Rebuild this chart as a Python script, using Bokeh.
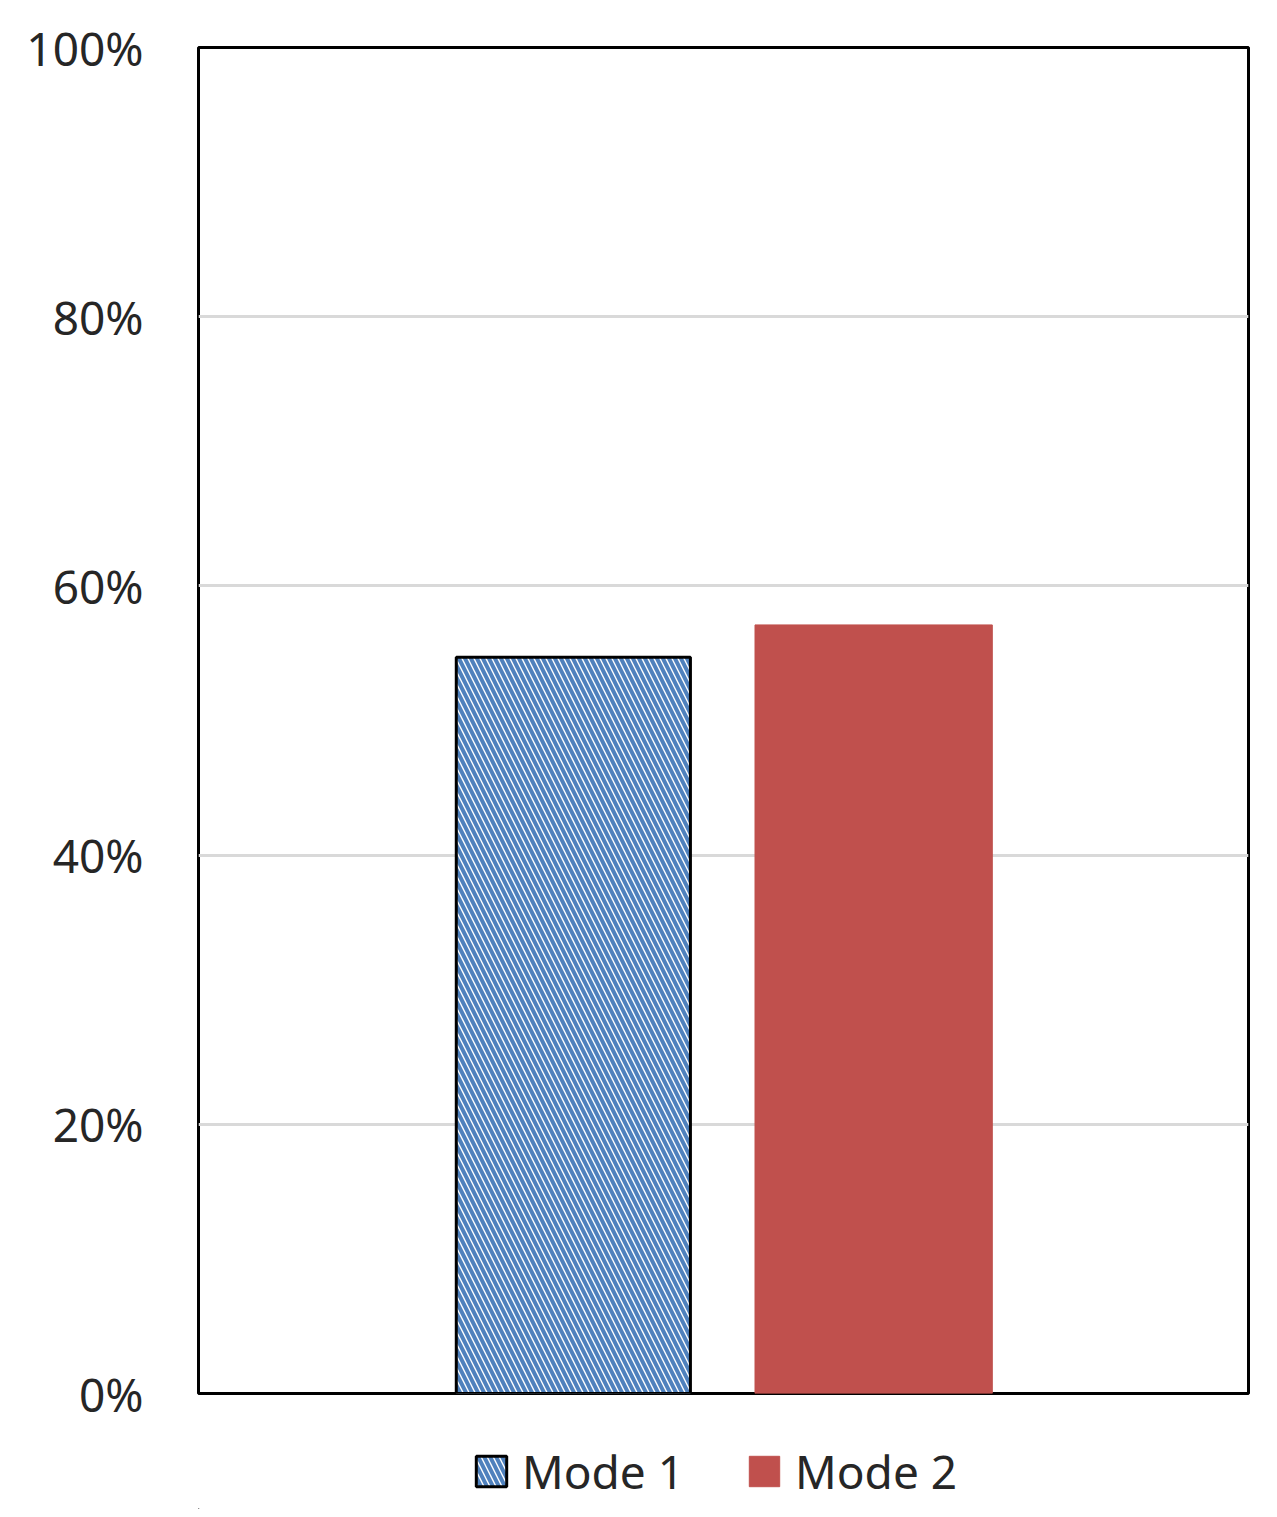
from bokeh.plotting import figure
from bokeh.layouts import column
from bokeh.models import ColumnDataSource, FactorRange, Range1d, FixedTicker, NumeralTickFormatter, Legend, LegendItem
from bokeh.transform import dodge
from bokeh.embed import file_html
from bokeh.resources import INLINE

group = ["All"]
mode1 = [0.547]
mode2 = [0.571]
y_ticks = [0, 0.2, 0.4, 0.6, 0.8, 1.0]
labels = ["Mode 1", "Mode 2"]

src = ColumnDataSource(data=dict(group=group, mode1=mode1, mode2=mode2))

style1 = dict(fill_color="white", line_color="black", line_width=3,
              hatch_pattern="\\", hatch_color="#4F81BD", hatch_weight=4, hatch_scale=12)
style2 = dict(fill_color="#C0504D", line_color="#C0504D", line_width=1)

p = figure(width=1269, height=1426, output_backend="svg", toolbar_location=None,
           x_range=FactorRange(*group, range_padding=0), y_range=Range1d(0, 1),
           min_border_left=198, min_border_right=21, min_border_top=47, min_border_bottom=33)

p.vbar(x=dodge("group", -0.143, range=p.x_range), top="mode1", width=0.223, source=src, **style1)
p.vbar(x=dodge("group", 0.143, range=p.x_range), top="mode2", width=0.226, source=src, **style2)

p.outline_line_color = "black"
p.outline_line_width = 3
p.outline_line_alpha = 1

p.xaxis.visible = False
p.xgrid.visible = False
p.ygrid.grid_line_color = "#D9D9D9"
p.ygrid.grid_line_width = 3
p.ygrid.ticker = FixedTicker(ticks=[0.2, 0.4, 0.6, 0.8])

ax = p.yaxis[0]
ax.ticker = FixedTicker(ticks=y_ticks)
ax.formatter = NumeralTickFormatter(format="0%")
ax.axis_line_color = None
ax.major_tick_line_color = None
ax.minor_tick_line_color = None
ax.major_tick_out = 0
ax.major_label_standoff = 55
ax.major_label_text_font = "Noto Sans"
ax.major_label_text_font_size = "46px"
ax.major_label_text_color = "#262626"

# legend strip below the chart (placeholder renderers lie outside its visible range)
lg = figure(width=1269, height=83, output_backend="svg", toolbar_location=None,
            x_range=Range1d(0, 1), y_range=Range1d(0, 1),
            min_border_left=198, min_border_right=21, min_border_top=0, min_border_bottom=0)
lg.axis.visible = False
lg.grid.visible = False
lg.outline_line_color = None
leg_src = ColumnDataSource(data=dict(x=[-10], top=[-10]))
e1 = lg.vbar(x="x", top="top", width=0.1, source=leg_src, **style1)
e2 = lg.vbar(x="x", top="top", width=0.1, source=leg_src, **style2)

legend = Legend(items=[LegendItem(label=labels[0], renderers=[e1]),
                       LegendItem(label=labels[1], renderers=[e2])],
                orientation="horizontal", location=(274, 7))
legend.label_text_font = "Noto Sans"
legend.label_text_font_size = "46px"
legend.label_text_color = "#262626"
legend.border_line_color = None
legend.background_fill_alpha = 0
legend.glyph_width = 38
legend.glyph_height = 38
legend.spacing = 61
legend.label_standoff = 12
legend.margin = 0
legend.padding = 0
lg.add_layout(legend, "center")

layout = column(p, lg, spacing=0)
open("out.html", "w").write(file_html(layout, INLINE))
